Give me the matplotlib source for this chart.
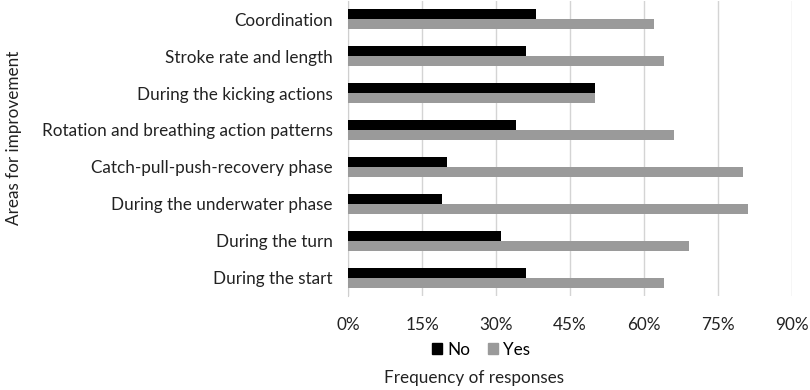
import numpy as np
import matplotlib
matplotlib.use("Agg")
import matplotlib.pyplot as plt
from matplotlib.ticker import PercentFormatter
from matplotlib.patches import Patch

plt.rcParams['font.family'] = ['Lato', 'DejaVu Sans']

# categories, top to bottom
areas = ["Coordination", "Stroke rate and length", "During the kicking actions",
         "Rotation and breathing action patterns", "Catch-pull-push-recovery phase",
         "During the underwater phase", "During the turn", "During the start"]
no_pct = [38, 36, 50, 34, 20, 19, 31, 36]
yes_pct = [62, 64, 50, 66, 80, 81, 69, 64]
xticks = [0, 15, 30, 45, 60, 75, 90]

fs = 12.3
fig = plt.figure(figsize=(8.1, 3.9), dpi=100)
ax = fig.add_axes([0.4296, 0.241, 0.5484, 0.757])

y = np.arange(len(areas))
h = 0.27
ax.barh(y - h / 2, no_pct, height=h, color='black', label='No', zorder=3)
ax.barh(y + h / 2, yes_pct, height=h, color='#9a9a9a', label='Yes', zorder=3)

ax.set_ylim(len(areas) - 0.5, -0.5)
ax.set_xlim(0, 90)
ax.set_xticks(xticks)
ax.xaxis.set_major_formatter(PercentFormatter(decimals=0))
ax.set_yticks(y)
ax.set_yticklabels(areas)
ax.grid(axis='x', color='#d4d4d4', linewidth=1, zorder=0)
for s in ['top', 'right', 'bottom']:
    ax.spines[s].set_visible(False)
ax.spines['left'].set_color('#cfcfcf')
ax.tick_params(axis='both', length=0, labelsize=fs, colors='#222222')
ax.tick_params(axis='x', pad=15)
ax.tick_params(axis='y', pad=11)

fig.text(0.017, 0.646, "Areas for improvement", rotation=90, ha='center', va='center',
         fontsize=fs, color='#222222')
fig.text(0.585, 0.03, "Frequency of responses", ha='center', va='center',
         fontsize=fs, color='#222222')

handles = [Patch(color='black', label='No'), Patch(color='#9a9a9a', label='Yes')]
fig.legend(handles=handles, loc='center', bbox_to_anchor=(0.594, 0.103), ncol=2,
           frameon=False, fontsize=fs, handlelength=0.6, handleheight=0.6,
           handletextpad=0.3, columnspacing=1.0)

fig.savefig("out.png", dpi=100)
